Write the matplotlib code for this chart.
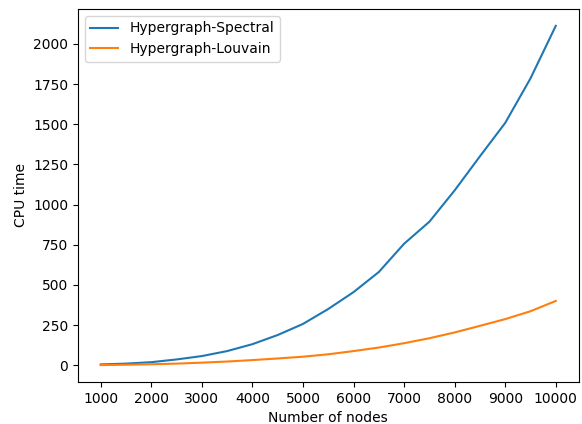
import matplotlib
matplotlib.use("Agg")
import matplotlib.pyplot as plt
import numpy as np

# number of nodes and CPU time
nodes = [1000, 1500, 2000, 2500, 3000, 3500, 4000, 4500, 5000, 5500,
         6000, 6500, 7000, 7500, 8000, 8500, 9000, 9500, 10000]
spectral = [5, 10, 19, 36, 57, 88, 131, 188, 257, 350,
            455, 580, 756, 893, 1088, 1300, 1508, 1785, 2112]
louvain = [1, 3, 6, 10, 16, 23, 32, 42, 53, 68,
           88, 110, 137, 168, 204, 245, 287, 336, 400]

fig = plt.figure(figsize=(5.82, 4.24), dpi=100)
ax = fig.add_subplot(111)
fig.subplots_adjust(left=0.134, right=0.994, top=0.979, bottom=0.099)

ax.plot(nodes, spectral, label="Hypergraph-Spectral")
ax.plot(nodes, louvain, label="Hypergraph-Louvain")
ax.set_xticks(np.arange(1000, 10001, 1000))
ax.set_yticks(np.arange(0, 2001, 250))
ax.set_xlabel("Number of nodes")
ax.set_ylabel("CPU time")
ax.legend(loc="upper left")

fig.savefig("out.png", dpi=100)
